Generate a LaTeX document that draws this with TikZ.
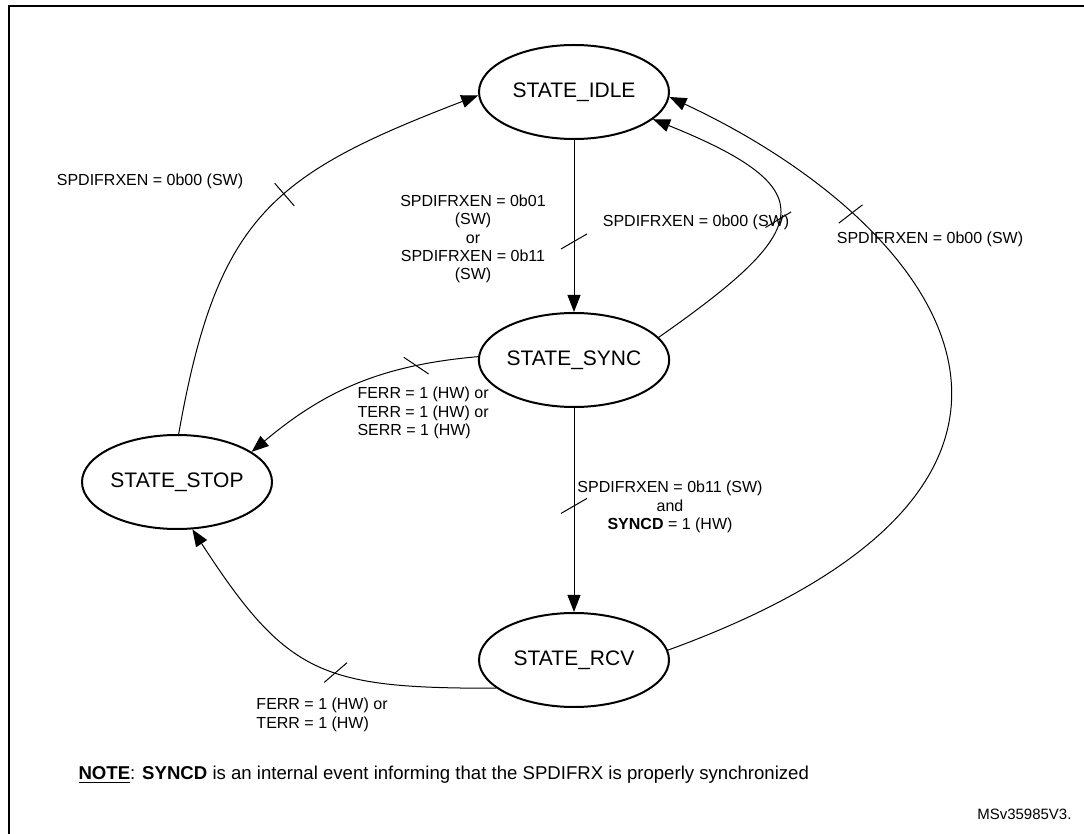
\documentclass[tikz,border=0pt]{standalone}
\usepackage{fontspec}
\setmainfont{Liberation Sans}
\usetikzlibrary{arrows.meta,positioning,shapes.geometric,decorations.markings}

\tikzset{
  state/.style={ellipse, draw, line width=1pt, minimum width=95pt, minimum height=47pt, inner sep=0pt, font=\fontsize{10.5}{12}\selectfont},
  cond/.style={font=\fontsize{8}{9.2}\selectfont, inner sep=0pt},
  crossmark/.style 2 args={postaction={decorate}, decoration={markings, mark=at position #1 with {\draw[-, line width=0.5pt, rotate=#2] (-7.5pt,0) -- (7.5pt,0);}}}
}

\begin{document}
\begin{tikzpicture}[x=0.5pt, y=-0.5pt, >={Triangle[length=8.5pt,width=6.5pt]}, line width=0.5pt]
  \useasboundingbox (0,0) rectangle (1084,834);
  \draw[line width=1.3pt] (1084,6) -| (9,834);

  % Define coordinates for nodes
  \node[state] (idle) at (574,92) {STATE\_IDLE};
  \node[state] (sync) at (574,360) {STATE\_SYNC};
  \node[state] (stop) at (177,482) {STATE\_STOP};
  \node[state] (rcv) at (574,660) {STATE\_RCV};

  % Conditions
  \node[cond] (lstop) at (150,181) {SPDIFRXEN = 0b00 (SW)};
  \node[cond, align=center] (lidle) at (473,239) {SPDIFRXEN = 0b01\\(SW)\\or\\SPDIFRXEN = 0b11\\(SW)};
  \node[cond] (lsync) at (696,222) {SPDIFRXEN = 0b00 (SW)};
  \node[cond] (lrcv) at (930,239) {SPDIFRXEN = 0b00 (SW)};
  \node[cond, align=left, anchor=west] (lerr) at (357,413) {FERR = 1 (HW) or\\TERR = 1 (HW) or\\SERR = 1 (HW)};
  \node[cond, align=center] (lsyncd) at (670,507) {SPDIFRXEN = 0b11 (SW)\\and\\\textbf{SYNCD} = 1 (HW)};
  \node[cond, align=left, anchor=west] (lerr2) at (256,715) {FERR = 1 (HW) or\\TERR = 1 (HW)};
  \node[cond, font=\fontsize{9.3}{11}\selectfont, anchor=west] (note) at (78,775) {\underline{\textbf{NOTE}}: \textbf{SYNCD} is an internal event informing that the SPDIFRX is properly synchronized};
  \node[font=\fontsize{7.5}{9}\selectfont, inner sep=0pt, anchor=east] (ref) at (1072,814) {MSv35985V3.};

  % Draw arrows between nodes
  \draw[->, crossmark={0.59}{120}] (idle) -- (sync);
  \draw[->, crossmark={0.48}{120}] (sync) -- (rcv);
  \draw[->, crossmark={0.55}{90}] (stop.88) to[out=80, in=201, looseness=1.25] (idle.182);
  \draw[->, crossmark={0.5}{-49}] (sync.15) to[out=35, in=-22, looseness=2.2] (idle.-19);
  \draw[->, crossmark={0.74}{-100}] (rcv.6) to[out=20, in=-25, out looseness=2.3, in looseness=1.38] (idle.-3);
  \draw[->, crossmark={0.25}{-46}] (sync.178) to[out=185, in=40] (stop.22);
  \draw[->, crossmark={0.44}{-120}] (rcv.200) to[out=180, in=-57, looseness=1.3] (stop.-72);
\end{tikzpicture}
\end{document}
